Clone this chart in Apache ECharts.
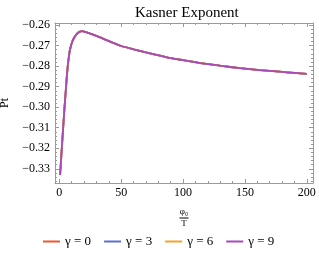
<!DOCTYPE html>
<html><head><meta charset="utf-8">
<script src="https://cdn.jsdelivr.net/npm/echarts@6/dist/echarts.min.js"></script>
<style>html,body{margin:0;padding:0;background:#fff}#c{width:319px;height:257px}</style>
</head><body><div id="c"></div>
<script>
const phiOverT = [0.6, 2, 3.2, 4.2, 5.2, 6.0, 6.8, 7.7, 8.6, 10.5, 12.7, 14.7, 16.7, 18.3, 20.8, 25, 33, 41, 50, 60, 70, 87, 100, 114, 130, 146, 162, 178, 190, 200];
const ptGamma0 = [-0.3330, -0.3200, -0.3090, -0.3000, -0.2920, -0.2855, -0.2800, -0.2755, -0.2720, -0.2680, -0.2655, -0.2640, -0.2632, -0.2630, -0.2633, -0.2642, -0.2660, -0.2681, -0.2702, -0.2718, -0.2733, -0.2757, -0.2771, -0.2785, -0.2798, -0.2810, -0.2819, -0.2827, -0.2833, -0.2838];
const ptGamma3 = ptGamma0.slice();
const ptGamma6 = ptGamma0.slice();
const ptGamma9 = ptGamma0.slice();
const seriesNames = ['γ = 0', 'γ = 3', 'γ = 6', 'γ = 9'];
const seriesColors = ['#E8592F', '#5C6ED2', '#F2A12B', '#A849B9'];
const xMajorTicks = [0, 50, 100, 150, 200];
const xMinorTicks = [10,20,30,40,60,70,80,90,110,120,130,140,160,170,180,190];
const yMajorTicks = [-0.33, -0.32, -0.31, -0.30, -0.29, -0.28, -0.27, -0.26];
const yMinorTicks = [];
for (let i = -168; i <= -130; i++) { if (i % 5 !== 0) yMinorTicks.push(+(i * 0.002).toFixed(3)); }

const allData = [ptGamma0, ptGamma3, ptGamma6, ptGamma9];
const XMIN = -3.5, XMAX = 205, YMIN = -0.3369, YMAX = -0.259;
const font = 'Liberation Serif';
const frame = '#9a9a9a';
function xAx(pos, vals, len, labels, line) {
  return { type: 'value', min: XMIN, max: XMAX, position: pos, splitLine: {show: false},
    axisLine: {show: line, onZero: false, lineStyle: {color: frame, width: 1}},
    axisTick: {show: true, inside: true, length: len, customValues: vals, lineStyle: {color: frame}},
    axisLabel: labels ? {show: true, customValues: vals, margin: 4, color: '#000', fontFamily: font, fontSize: 12} : {show: false} };
}
function yAx(pos, vals, len, labels, line) {
  return { type: 'value', min: YMIN, max: YMAX, position: pos, splitLine: {show: false},
    axisLine: {show: line, onZero: false, lineStyle: {color: frame, width: 1}},
    axisTick: {show: true, inside: true, length: len, customValues: vals, lineStyle: {color: frame}},
    axisLabel: labels ? {show: true, customValues: vals, margin: 5, color: '#000', fontFamily: font, fontSize: 12,
      formatter: v => '\u2212' + Math.abs(v).toFixed(2)} : {show: false} };
}
const xs = [xAx('bottom', xMajorTicks, 4, true, true), xAx('bottom', xMinorTicks, 2, false, false),
            xAx('top', xMajorTicks, 4, false, true), xAx('top', xMinorTicks, 2, false, false)];
xs[0].name = '{n|φ₀}\n{b|}\n{d|T}';
xs[0].nameLocation = 'middle';
xs[0].nameGap = 24;
xs[0].nameTextStyle = {fontFamily: font, color: '#000', align: 'center', rich: {
  n: {fontSize: 9, fontFamily: font, lineHeight: 10, align: 'center'},
  b: {width: 9, height: 1, backgroundColor: '#000', lineHeight: 2, align: 'center'},
  d: {fontSize: 9, fontFamily: font, lineHeight: 10, align: 'center'}}};
const ys = [yAx('left', yMajorTicks, 4, true, true), yAx('left', yMinorTicks, 2, false, false),
            yAx('right', yMajorTicks, 4, false, true), yAx('right', yMinorTicks, 2, false, false)];
ys[0].name = 'Pt';
ys[0].nameLocation = 'middle';
ys[0].nameGap = 41;
ys[0].nameTextStyle = {fontFamily: font, fontSize: 12, color: '#000'};

const chart = echarts.init(document.getElementById('c'), null, {renderer: 'canvas'});
chart.setOption({
  animation: false,
  backgroundColor: '#fff',
  title: {text: 'Kasner Exponent', left: 130, top: 1, textStyle: {fontFamily: font, fontSize: 15, fontWeight: 'normal', color: '#000'}},
  grid: {left: 55, right: 6, top: 23, bottom: 74, containLabel: false, outerBoundsMode: 'none'},
  xAxis: xs, yAxis: ys,
  legend: {bottom: 4, left: 38, itemGap: 13, itemWidth: 17, itemHeight: 2, icon: 'rect',
    textStyle: {fontFamily: font, fontSize: 13, color: '#000'}, data: seriesNames},
  series: seriesNames.map((n, i) => ({
    name: n, type: 'line', xAxisIndex: 0, yAxisIndex: 0, symbol: 'none', smooth: 0.2,
    color: seriesColors[i], lineStyle: {width: 1.8, color: seriesColors[i]},
    data: phiOverT.map((x, j) => [x, allData[i][j]])
  }))
});
</script></body></html>
